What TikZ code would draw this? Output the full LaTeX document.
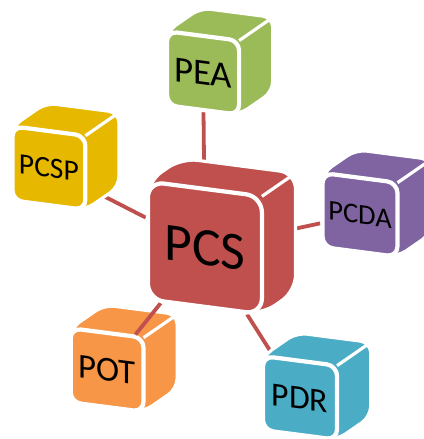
\documentclass[tikz,border=0pt]{standalone}
\usepackage{fontspec}
\setmainfont{Carlito}
\usepackage{xcolor}
\usetikzlibrary{calc}

\definecolor{pcsred}{HTML}{C0504D}
\definecolor{peagreen}{HTML}{9BBB59}
\definecolor{pcspgold}{HTML}{E6B800}
\definecolor{pcdapurple}{HTML}{8064A2}
\definecolor{potorange}{HTML}{F79646}
\definecolor{pdrblue}{HTML}{4BACC6}

\pgfdeclarelayer{bottom}
\pgfdeclarelayer{links}
\pgfsetlayers{bottom,links,main}

\tikzset{
  face/.style={draw=white, line width=4pt, rounded corners=#1, inner sep=0pt, transform shape},
  link/.style={pcsred, line width=3.6pt},
}

% #1 name, #2 colour, #3 centre, #4 width, #5 height, #6 font size, #7 label
\newcommand{\drawcube}[7]{%
  \begin{scope}[shift={#3}, yslant=-0.13]
    \pgfmathsetmacro{\hw}{#4/2}
    \pgfmathsetmacro{\hh}{#5/2}
    \pgfmathsetmacro{\rr}{0.14*#4}
    % top and side
    \fill[#2, draw=white, line width=3pt, rounded corners=\rr cm]
      (-\hw,\hh) -- ++(1.12,0.92) -- (\hw+1.12,\hh+0.92) -- (\hw+1.12,-\hh+0.92)
      -- (\hw,-\hh) -- (-\hw,-\hh) -- cycle;
    \draw[white, line width=3pt] (\hw,\hh) -- ++(1.12,0.92);
    % front
    \node[face=\rr cm, fill=#2, minimum width=#4 cm, minimum height=#5 cm,
      font=\fontsize{#6}{#6}\selectfont] (#1) at (0,0) {#7};
  \end{scope}}

\begin{document}
\begin{tikzpicture}
    \useasboundingbox (0,0) rectangle (14.1,14.633);

    % Cubes
    \drawcube{pcs}{pcsred}{(6.83,6.37)}{3.8}{3.93}{51}{PCS}
    \drawcube{pea}{peagreen}{(6.77,12.2)}{2.4}{2.47}{35}{PEA}
    \drawcube{pcsp}{pcspgold}{(1.63,9.03)}{2.43}{2.47}{28}{PCSP}
    \drawcube{pcda}{pcdapurple}{(12.0,7.47)}{2.5}{2.47}{27}{PCDA}
    \drawcube{pdr}{pdrblue}{(10.0,1.37)}{2.47}{2.47}{32}{PDR}
    \begin{pgfonlayer}{bottom}
        \drawcube{pot}{potorange}{(3.57,2.3)}{2.43}{2.47}{33}{POT}
    \end{pgfonlayer}

    % Links
    \begin{pgfonlayer}{links}
        \foreach \n in {pea,pcsp,pcda,pot,pdr}
            \draw[link] (pcs) -- (\n);
    \end{pgfonlayer}

\end{tikzpicture}
\end{document}
